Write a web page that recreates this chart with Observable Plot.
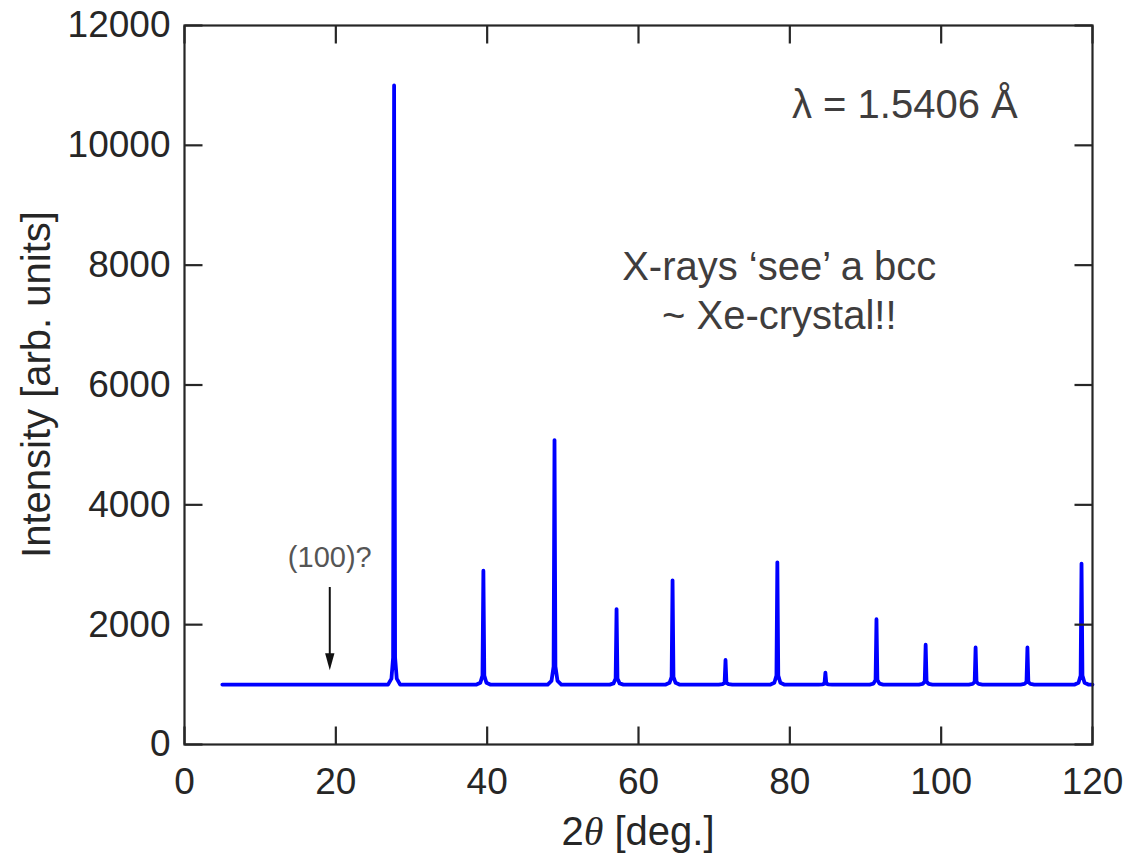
<!DOCTYPE html>
<html><head><meta charset="utf-8">
<script src="https://cdn.jsdelivr.net/npm/d3@7"></script>
<script src="https://cdn.jsdelivr.net/npm/@observablehq/plot@0.6"></script>
<style>body{margin:0;background:#fff} #chart svg{display:block}</style>
</head><body><div id="chart"></div>
<script>
// Diffraction pattern vertices: 2θ (deg) and intensity (arb. units)
const twoTheta = [5,
  26.9,27.35,27.57,27.7,27.83,28.05,28.5,
  38.6,39.1,39.38,39.5,39.62,39.9,40.4,
  48.0,48.5,48.78,48.9,49.02,49.3,49.8,
  56.2,56.7,56.98,57.1,57.22,57.5,58.0,
  63.6,64.1,64.38,64.5,64.62,64.9,65.4,
  70.6,71.1,71.38,71.5,71.62,71.9,72.4,
  77.45,77.95,78.23,78.35,78.47,78.75,79.25,
  83.8,84.3,84.58,84.7,84.82,85.1,85.6,
  90.55,91.05,91.33,91.45,91.57,91.85,92.35,
  97.05,97.55,97.83,97.95,98.07,98.35,98.85,
  103.65,104.15,104.43,104.55,104.67,104.95,105.45,
  110.5,111.0,111.28,111.4,111.52,111.8,112.3,
  117.65,118.15,118.43,118.55,118.67,118.95,119.45,
  120];
const intensity = [1000,
  1000,1100,1450,11000,1450,1100,1000,
  1000,1030,1150,2900,1150,1030,1000,
  1000,1060,1300,5080,1300,1060,1000,
  1000,1020,1100,2260,1100,1020,1000,
  1000,1030,1130,2740,1130,1030,1000,
  1000,1008,1030,1410,1030,1008,1000,
  1000,1030,1150,3040,1150,1030,1000,
  1000,1004,1015,1200,1015,1004,1000,
  1000,1015,1080,2090,1080,1015,1000,
  1000,1012,1050,1665,1050,1012,1000,
  1000,1010,1045,1620,1045,1010,1000,
  1000,1010,1045,1620,1045,1010,1000,
  1000,1030,1150,3020,1150,1030,1000,
  1000];
const xTicks = [0, 20, 40, 60, 80, 100, 120];
const yTicks = [0, 2000, 4000, 6000, 8000, 10000, 12000];

// annotations (data coordinates)
const lambdaText = "λ = 1.5406 Å";
const lambdaPos = {x: 95.2, y: 10670};
const noteText = "X-rays ‘see’ a bcc\n~ Xe-crystal!!";
const notePos = {x: 78.6, y: 7600};
const peakLabel = "(100)?";
const peakLabelPos = {x: 19.2, y: 3110};
const arrowX = 19.2, arrowTop = 2620, arrowHead = 1380;

const spectrum = twoTheta.map((t, i) => ({t, i: intensity[i]}));

const W = 1133, H = 855, ML = 184, MR = 41, MT = 25, MB = 111;
const INK = "#262626";
const TICK = 18;
const tickShape = {draw(ctx, l) { ctx.moveTo(0, 0); ctx.lineTo(0, -l); }};
const headSymbol = {draw(ctx, size) {
  const s = Math.sqrt(size / Math.PI);
  ctx.moveTo(0, s); ctx.lineTo(-0.55 * s, -s); ctx.lineTo(0.55 * s, -s); ctx.closePath();
}};
const tickOpts = {stroke: INK, strokeWidth: 2.2, length: TICK, anchor: "start", shape: tickShape, strokeLinecap: "butt"};

const fig = Plot.plot({
  width: W, height: H,
  marginLeft: ML, marginRight: MR, marginTop: MT, marginBottom: MB,
  style: {fontFamily: "'Liberation Sans', Arial, Helvetica, sans-serif", background: "#fff", color: INK},
  x: {domain: [0, 120]},
  y: {domain: [0, 12000]},
  marks: [
    Plot.line(spectrum, {x: "t", y: "i", stroke: "#0000ff", strokeWidth: 3.8}),
    Plot.ruleX([arrowX], {y1: arrowTop, y2: arrowHead, stroke: "#111", strokeWidth: 2}),
    Plot.dot([arrowX], {x: d => d, y: arrowHead, r: 8.5, symbol: headSymbol, fill: "#111", stroke: "none"}),
    Plot.text([peakLabel], {x: peakLabelPos.x, y: peakLabelPos.y, text: d => d, fontSize: 29, fill: "#555", textAnchor: "middle", lineAnchor: "middle"}),
    Plot.text([lambdaText], {x: lambdaPos.x, y: lambdaPos.y, text: d => d, fontSize: 40, fill: "#3f3d3d", textAnchor: "middle", lineAnchor: "middle"}),
    Plot.text([noteText], {x: notePos.x, y: notePos.y, text: d => d, fontSize: 40, lineHeight: 1.22, fill: "#3f3d3d", textAnchor: "middle", lineAnchor: "middle"}),
    Plot.frame({stroke: INK, strokeWidth: 2.2}),
    Plot.vector(xTicks, {x: d => d, frameAnchor: "bottom", rotate: 0, ...tickOpts}),
    Plot.vector(xTicks, {x: d => d, frameAnchor: "top", rotate: 180, ...tickOpts}),
    Plot.vector(yTicks, {y: d => d, frameAnchor: "left", rotate: 90, ...tickOpts}),
    Plot.vector(yTicks, {y: d => d, frameAnchor: "right", rotate: 270, ...tickOpts}),
    Plot.axisX({ticks: xTicks, tickSize: 0, tickPadding: 23, fontSize: 37, label: null, tickFormat: d => String(d)}),
    Plot.axisY({ticks: yTicks, tickSize: 0, tickPadding: 14, fontSize: 37, label: null, tickFormat: d => String(d)})
  ]
});

const svg = d3.select(fig);
const cx = ML + (W - ML - MR) / 2, cy = MT + (H - MT - MB) / 2;
const xl = svg.append("text").attr("x", cx).attr("y", H - 10)
  .attr("text-anchor", "middle").attr("font-size", 40).attr("fill", INK);
xl.append("tspan").text("2");
xl.append("tspan").attr("font-family", "'Liberation Serif', 'DejaVu Serif', serif").attr("font-style", "italic").text("θ");
xl.append("tspan").text(" [deg.]");
svg.append("text").attr("transform", `translate(50,${cy}) rotate(-90)`)
  .attr("text-anchor", "middle").attr("font-size", 40).attr("fill", INK)
  .text("Intensity [arb. units]");

document.getElementById("chart").append(fig);
</script></body></html>
